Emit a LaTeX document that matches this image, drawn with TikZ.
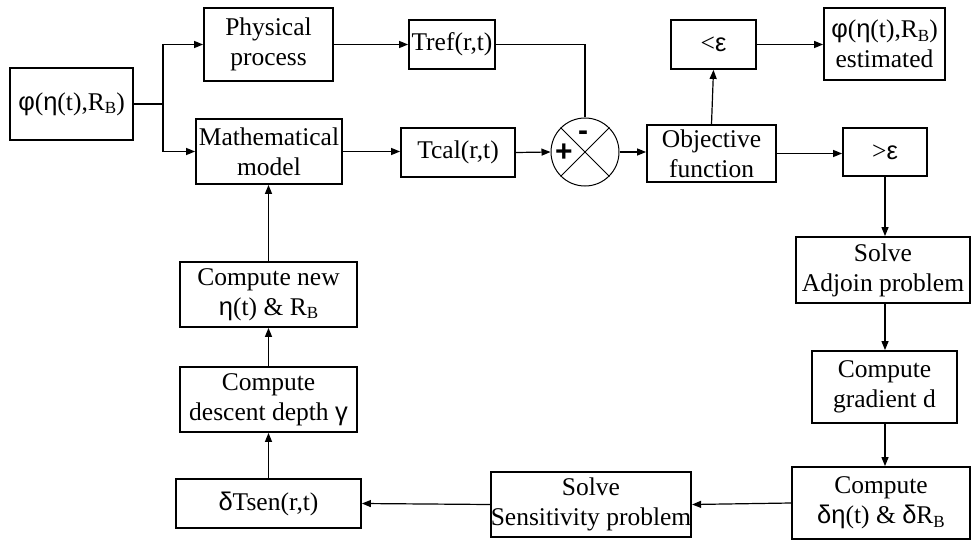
\documentclass[tikz,border=0pt]{standalone}
\usepackage{fontspec}
\setmainfont{Liberation Serif}
\newfontfamily\gr{Liberation Sans}
\usetikzlibrary{arrows.meta}
\newcommand{\gk}[1]{{\gr #1}}
\newcommand{\RB}{R\raisebox{-0.3ex}{\fontsize{17}{17}\selectfont B}}
\begin{document}
\begin{tikzpicture}[x=1pt,y=-1pt,
  box/.style={draw, line width=1.8pt, inner sep=0pt, align=center,
    font=\fontsize{25.5}{30}\selectfont},
  conn/.style={line width=1.2pt},
  arr/.style={conn, -{Triangle[length=9pt,width=7pt]}}]
\useasboundingbox (0,0) rectangle (971,540);
\fill[white] (0,0) rectangle (971,540);
% boxes
\node[box, minimum width=123pt, minimum height=72pt] (phi) at (71.5,104) {\gk{φ}(\gk{η}(t),\RB)};
\node[box, minimum width=129pt, minimum height=73pt] (phys) at (268.5,44.5) {Physical\\process};
\node[box, minimum width=146pt, minimum height=65pt] (math) at (269,151.5) {Mathematical\\model};
\node[box, minimum width=86pt, minimum height=49pt] (tref) at (452,44.5) {Tref(r,t)};
\node[box, minimum width=114pt, minimum height=49pt] (tcal) at (458,152.5) {Tcal(r,t)};
\node[draw, circle, line width=1pt, minimum size=68pt, inner sep=0pt] (sum) at (585,152) {};
\node[box, minimum width=129pt, minimum height=57pt] (obj) at (711.5,153.5) {Objective\\function};
\node[box, minimum width=85pt, minimum height=49pt] (lt) at (713.5,44.5) {<\gk{ε}};
\node[box, minimum width=121pt, minimum height=72pt] (est) at (884.5,44) {\gk{φ}(\gk{η}(t),\RB)\\estimated};
\node[box, minimum width=84pt, minimum height=48pt] (gt) at (885,152) {>\gk{ε}};
\node[box, minimum width=174pt, minimum height=66pt] (adj) at (883,270) {Solve\\Adjoin problem};
\node[box, minimum width=145pt, minimum height=72pt] (grad) at (884.5,387) {Compute\\gradient d};
\node[box, minimum width=178pt, minimum height=72pt] (deta) at (881,503) {Compute\\\gk{δη}(t) \& \gk{δ}\RB};
\node[box, minimum width=194pt, minimum height=65pt] (sens) at (591,504.5) {Solve\\Sensitivity problem};
\node[box, minimum width=185pt, minimum height=49pt] (dT) at (268.5,503.5) {\gk{δ}Tsen(r,t)};
\node[box, minimum width=177pt, minimum height=65pt] (desc) at (268.5,399.5) {Compute\\descent depth \gk{γ}};
\node[box, minimum width=177pt, minimum height=65pt] (new) at (268.5,294.5) {Compute new\\\gk{η}(t) \& \RB};
% summing junction
\draw[line width=1pt] (sum.north west) -- (sum.south east);
\draw[line width=1pt] (sum.north east) -- (sum.south west);
\node[font=\gr\bfseries\fontsize{30}{30}\selectfont, inner sep=0pt] (plus) at (564,153) {+};
\node[font=\gr\bfseries\fontsize{30}{30}\selectfont, inner sep=0pt] (minus) at (583,136) {-};
% connectors
\coordinate (split) at (163,104);
\draw[conn] (phi.east) -- (split);
\draw[arr] (split) |- (phys.west);
\draw[arr] (split) |- (math.west);
\draw[arr] (phys.east) -- (tref.west);
\draw[arr] (math.east) -- (math.east -| tcal.west);
\draw[conn] (tref.east) -| (sum.north);
\draw[arr] (tcal.east) -- (sum.west);
\draw[arr] (sum.east) -- (sum.east -| obj.west);
\draw[arr] (obj.north) -- (lt.south);
\draw[arr] (lt.east) -- (lt.east -| est.west);
\draw[arr] (obj.east) -- (obj.east -| gt.west);
\draw[arr] (gt.south) -- (gt.south |- adj.north);
\draw[arr] (gt.south |- adj.south) -- (gt.south |- grad.north);
\draw[arr] (gt.south |- grad.south) -- (gt.south |- deta.north);
\draw[arr] (deta.west) -- (sens.east);
\draw[arr] (sens.west) -- (dT.east);
\draw[arr] (dT.north) -- (desc.south);
\draw[arr] (desc.north) -- (new.south);
\draw[arr] (new.north) -- (new.north |- math.south);
\end{tikzpicture}
\end{document}
